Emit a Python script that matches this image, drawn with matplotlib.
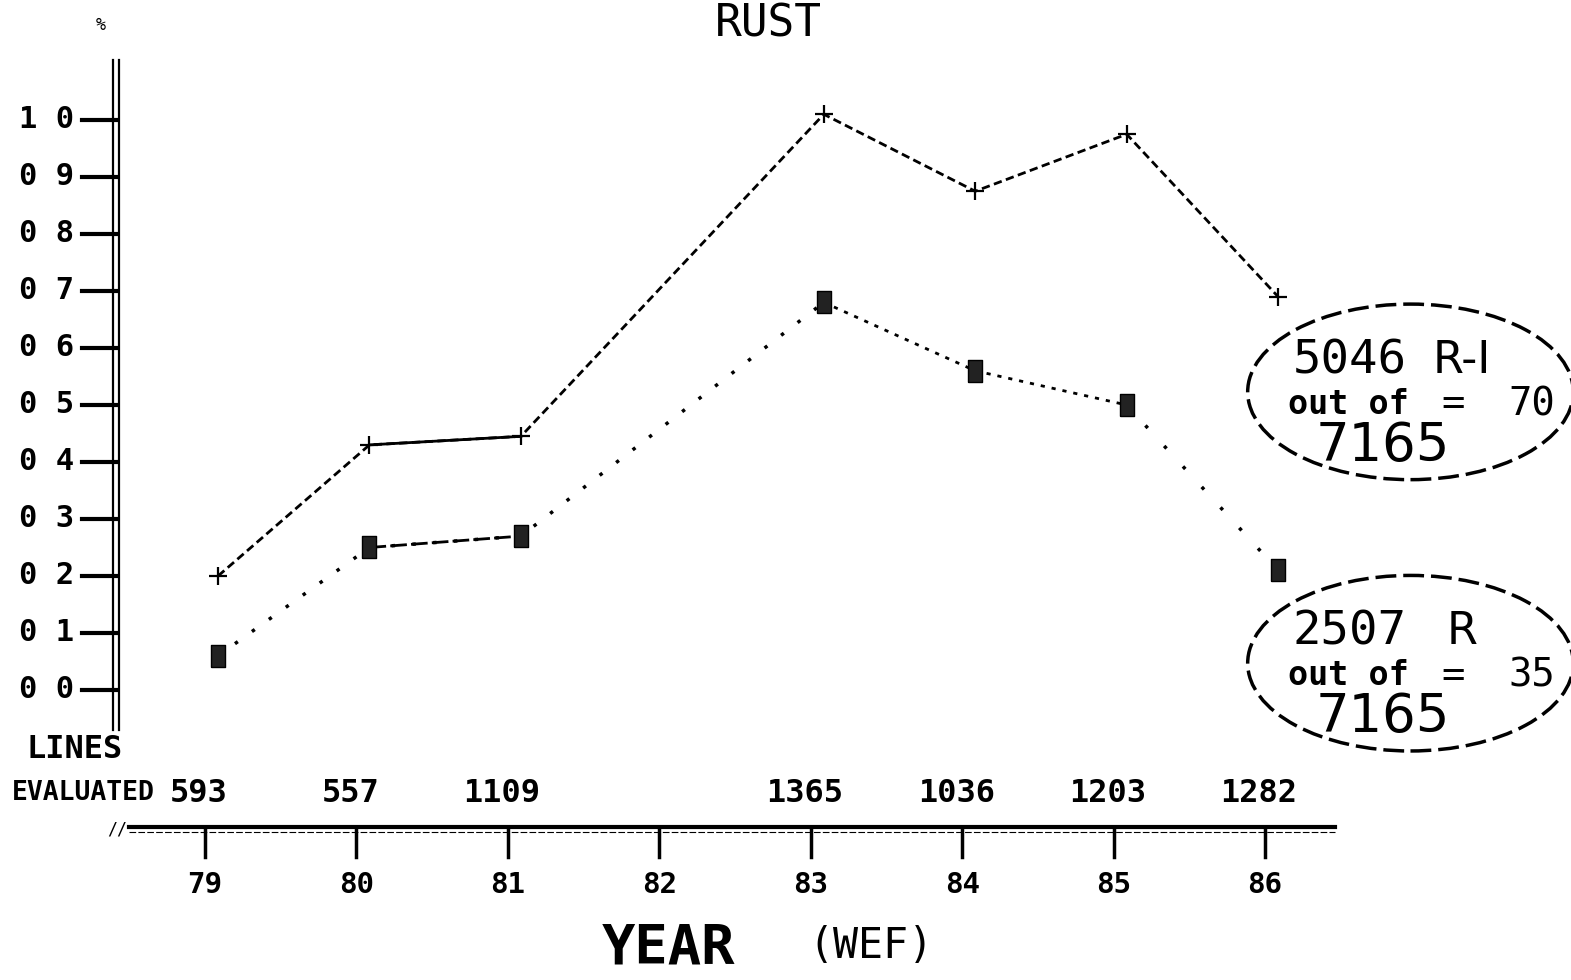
import matplotlib
matplotlib.use("Agg")
import matplotlib.pyplot as plt
import matplotlib.transforms as mtransforms
from matplotlib.patches import Ellipse

# yearly rust ratings, 1982 not surveyed
years = [79, 80, 81, 83, 84, 85, 86]
rust_ri = [2.0, 4.3, 4.45, 10.1, 8.75, 9.75, 6.9]
rust_r = [0.6, 2.5, 2.7, 6.8, 5.6, 5.0, 2.1]
lines_evaluated = [593, 557, 1109, 1365, 1036, 1203, 1282]

axis_years = [79, 80, 81, 82, 83, 84, 85, 86]
y_ticks = list(range(0, 11))
y_ticklabels = ["0 %d" % v if v < 10 else "1 0" for v in y_ticks]

total_lines = 7165
ri_lines = 5046
r_lines = 2507

mono = "DejaVu Sans Mono"

fig = plt.figure(figsize=(15.71, 9.8), dpi=100)
ax = fig.add_axes([0, 0, 1, 1])
ax.set_xlim(77.646, 88.02)
ax.set_ylim(-5.088, 12.105)
ax.axis("off")

# points sit a little right of the year ticks on the printout
shift = mtransforms.offset_copy(ax.transData, fig=fig, x=13, y=0, units="dots")

# R-I series
ax.plot(years, rust_ri, ls=(0, (3, 1.6)), lw=2, color="k", transform=shift)
ax.plot(years[1:3], rust_ri[1:3], ls="-", lw=2, color="k", transform=shift)
ax.plot(years, rust_ri, ls="none", marker="+", ms=13, mew=1.6, color="k",
        transform=shift)

# R series
rect = [(-0.3, -0.5), (0.3, -0.5), (0.3, 0.5), (-0.3, 0.5), (-0.3, -0.5)]
ax.plot(years[:4], rust_r[:4], ls=(0, (1, 5)), lw=2.5, color="k",
        transform=shift)
ax.plot(years[3:6], rust_r[3:6], ls=(0, (1.5, 2.5)), lw=2, color="k",
        transform=shift)
ax.plot(years[5:], rust_r[5:], ls=(0, (1, 7)), lw=2.5, color="k",
        transform=shift)
ax.plot(years[1:3], rust_r[1:3], ls=(0, (6, 1.5)), lw=2, color="k",
        transform=shift)
ax.plot(years, rust_r, ls="none", marker=rect, ms=16, color="k",
        mfc="#222222", mec="k", transform=shift)

# y axis rail, ticks and labels
ax.plot([78.39, 78.39], [-0.7, 11.05], color="k", lw=1.6)
ax.plot([78.43, 78.43], [-0.7, 11.05], color="k", lw=1.6)
for v, lab in zip(y_ticks, y_ticklabels):
    ax.plot([78.19, 78.41], [v, v], color="k", lw=3)
    ax.text(77.956, v, lab, ha="center", va="center", family=mono,
            fontweight="bold", fontsize=22)
ax.text(78.31, 11.67, "%", ha="center", va="center", family=mono, fontsize=12)

# title
ax.text(82.72, 11.68, "RUST", ha="center", va="center", family=mono,
        fontsize=32)

# x axis, year ticks and labels
ax.plot([78.5, 86.46], [-2.40, -2.40], color="k", lw=3)
ax.plot([78.5, 86.46], [-2.49, -2.49], color="k", lw=0.8, ls=(0, (6, 2)))
ax.text(78.42, -2.45, "//", ha="center", va="center", family=mono,
        fontsize=12)
for yr in axis_years:
    ax.plot([yr, yr], [-2.40, -2.93], color="k", lw=2.5)
    ax.text(yr, -3.42, str(yr), ha="center", va="center", family=mono,
            fontweight="bold", fontsize=21)

# lines evaluated per year
ax.text(78.14, -1.05, "LINES", ha="center", va="center", family=mono,
        fontweight="bold", fontsize=23)
ax.text(78.665, -1.81, "EVALUATED", ha="right", va="center", family=mono,
        fontweight="bold", fontsize=19)
for yr, n in zip(years, lines_evaluated):
    ax.text(yr - 0.04, -1.81, str(n), ha="center", va="center", family=mono,
            fontweight="bold", fontsize=23)

ax.text(82.06, -4.52, "YEAR", ha="center", va="center", family=mono,
        fontweight="bold", fontsize=40)
ax.text(83.40, -4.50, "(WEF)", ha="center", va="center", family=mono,
        fontsize=30)

# legend ovals
for cy in (5.23, 0.47):
    ax.add_patch(Ellipse((86.96, cy), 2.15, 3.08, fill=False, ec="k", lw=2.5,
                         ls=(0, (6, 2))))

legend = [
    (5.23, ri_lines, "R-I"),
    (0.47, r_lines, "R"),
]
for cy, n, name in legend:
    pct = round(100 * n / total_lines)
    ax.text(86.56, cy + 0.55, str(n), ha="center", va="center", family=mono,
            fontsize=34, fontweight="light")
    ax.text(87.30, cy + 0.55, name, ha="center", va="center",
            family="DejaVu Sans", fontsize=32)
    ax.text(86.55, cy - 0.22, "out of", ha="center", va="center", family=mono,
            fontweight="bold", fontsize=24)
    ax.text(87.24, cy - 0.22, "=", ha="center", va="center", family=mono,
            fontsize=28)
    ax.text(87.76, cy - 0.22, str(pct), ha="center", va="center", family=mono,
            fontsize=28)
    ax.text(86.78, cy - 0.95, str(total_lines), ha="center", va="center",
            family="DejaVu Sans", fontsize=38)

fig.savefig("out.png", dpi=100)
